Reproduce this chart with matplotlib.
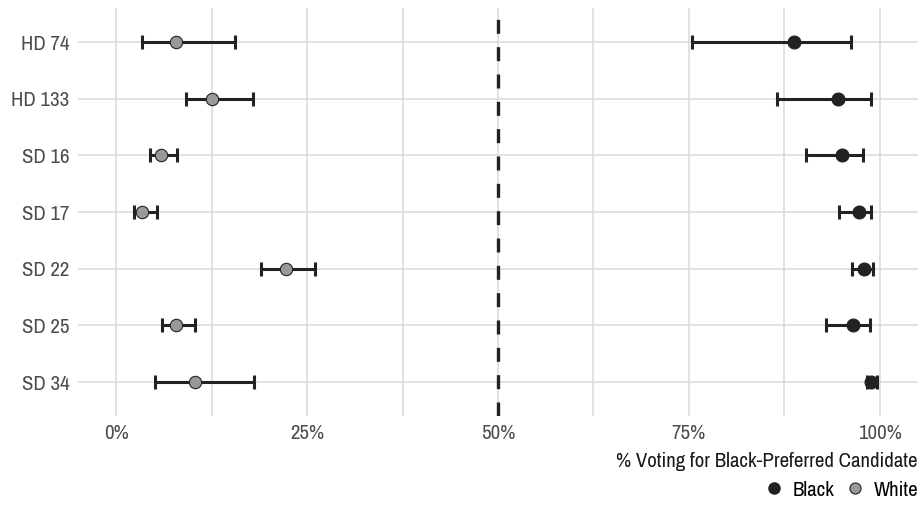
import numpy as np
import matplotlib
matplotlib.use("Agg")
import matplotlib.pyplot as plt
from matplotlib import font_manager
from matplotlib.lines import Line2D
from matplotlib.ticker import FuncFormatter

# use a condensed face if one is installed, otherwise Roboto a bit smaller
narrow = [f.name for f in font_manager.fontManager.ttflist
          if "Narrow" in f.name or "Condensed" in f.name]
if narrow:
    plt.rcParams['font.family'] = [narrow[0], 'DejaVu Sans']
    fs = 15
else:
    plt.rcParams['font.family'] = ['Roboto', 'DejaVu Sans']
    fs = 12.8

# districts, top to bottom
districts = ["HD 74", "HD 133", "SD 16", "SD 17", "SD 22", "SD 25", "SD 34"]

# white voters: estimate with lower / upper interval (%)
white_est = [7.8, 12.6, 5.9, 3.4, 22.2, 7.8, 10.3]
white_lo = [3.4, 9.1, 4.4, 2.3, 18.9, 6.0, 5.1]
white_hi = [15.6, 17.9, 8.0, 5.3, 26.1, 10.3, 18.1]

# black voters
black_est = [88.8, 94.5, 95.0, 97.3, 97.9, 96.5, 98.9]
black_lo = [75.4, 86.5, 90.3, 94.7, 96.4, 92.9, 98.3]
black_hi = [96.2, 98.8, 97.8, 98.8, 99.1, 98.7, 99.6]

W, H = 924, 531
fig = plt.figure(figsize=(W / 100, H / 100), dpi=100)
ax = fig.add_axes([78 / W, 1 - 416 / H, (918 - 78) / W, (416 - 8) / H])

y = np.arange(len(districts))
grid_col = "#dadada"
dark = "#222222"

# grid lines (major + minor on x)
for gx in np.arange(0, 101, 12.5):
    ax.axvline(gx, color=grid_col, lw=1.1, zorder=0)
for gy in y:
    ax.axhline(gy, color=grid_col, lw=1.1, zorder=0)

ax.axvline(50, color=dark, lw=2.4, linestyle=(0, (4.2, 4.0)), zorder=1)


def draw(est, lo, hi, face, ms):
    est = np.array(est)
    err = [est - np.array(lo), np.array(hi) - est]
    ax.errorbar(est, y, xerr=err, fmt="none", ecolor=dark, elinewidth=2.2,
                capsize=5, capthick=2.2, zorder=2)
    ax.plot(est, y, "o", ms=ms, mfc=face, mec=dark, mew=0.8, zorder=3)


draw(white_est, white_lo, white_hi, "#999999", 8.9)
draw(black_est, black_lo, black_hi, dark, 9.3)

ax.set_xlim(-5, 105)
ax.set_ylim(len(districts) - 1 + 0.6, -0.6)
ax.set_xticks([0, 25, 50, 75, 100])
ax.xaxis.set_major_formatter(FuncFormatter(lambda v, p: f"{v:.0f}%"))
ax.set_yticks(y)
ax.set_yticklabels(districts)
ax.tick_params(length=0, labelsize=fs, labelcolor="#4d4d4d", pad=6)
for s in ax.spines.values():
    s.set_visible(False)

ax.set_xlabel("% Voting for Black-Preferred Candidate", fontsize=fs,
              color="#1a1a1a", loc="right", labelpad=6)

handles = [
    Line2D([], [], marker="o", ls="", ms=8, mfc=dark, mec=dark, label="Black"),
    Line2D([], [], marker="o", ls="", ms=8, mfc="#999999", mec=dark, mew=0.8, label="White"),
]
fig.legend(handles=handles, loc="center right", bbox_to_anchor=(1.003, 1 - 490 / H),
           ncol=2, frameon=False, fontsize=fs, handletextpad=0.4,
           columnspacing=0.5, handlelength=1.0, borderaxespad=0.0)

fig.savefig("out.png", dpi=100)
